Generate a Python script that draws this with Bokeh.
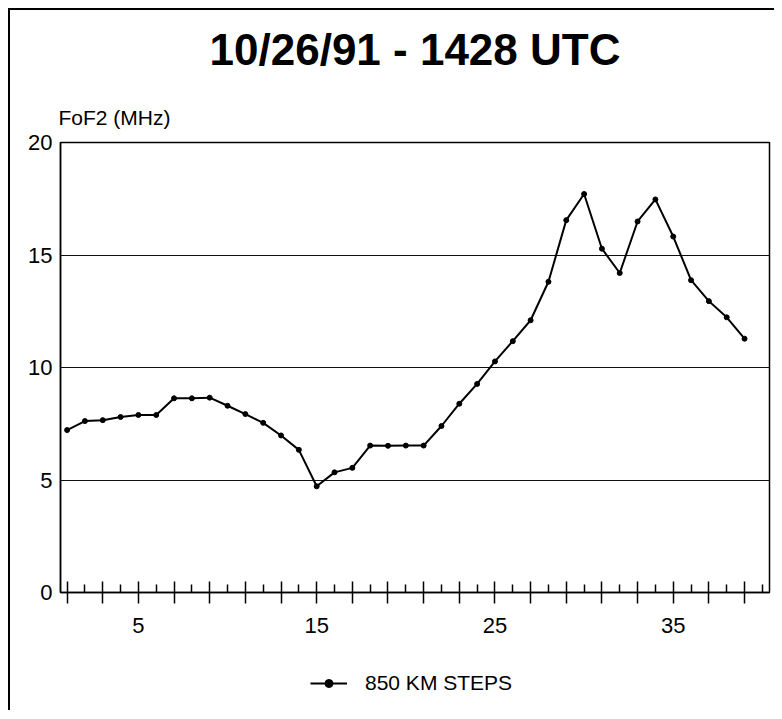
from bokeh.plotting import figure
from bokeh.layouts import column
from bokeh.models import Title, Legend, LegendItem, FixedTicker, Range1d, ColumnDataSource
from bokeh.embed import file_html
from bokeh.resources import INLINE

# ---- data ----
steps = list(range(1, 40))
fof2 = [7.22, 7.62, 7.66, 7.80, 7.89, 7.89, 8.63, 8.63, 8.66, 8.30,
        7.93, 7.54, 6.98, 6.34, 4.72, 5.34, 5.54, 6.53, 6.52, 6.53,
        6.53, 7.40, 8.39, 9.27, 10.27, 11.17, 12.10, 13.81, 16.55, 17.71,
        15.28, 14.20, 16.49, 17.47, 15.82, 13.88, 12.95, 12.23, 11.28]
title_text = "10/26/91 - 1428 UTC"
y_label = "FoF2 (MHz)"
series_name = "850 KM STEPS"
y_ticks = [0, 5, 10, 15, 20]
x_major = list(range(1, 40, 2))
x_minor = list(range(2, 41, 2))
x_labelled = [5, 15, 25, 35]

FONT = "Liberation Sans"

src = ColumnDataSource(data=dict(x=steps, y=fof2))

p = figure(frame_width=707, frame_height=448,
           x_range=Range1d(0.63, 40.4), y_range=Range1d(0, 20),
           output_backend="svg", toolbar_location=None,
           min_border_left=50, min_border_right=7,
           min_border_top=132, min_border_bottom=60)
p.styles = {"border-left": "2px solid black", "border-top": "2px solid black"}

p.outline_line_color = "black"
p.outline_line_width = 1.5
p.background_fill_color = "white"
p.border_fill_color = "white"

p.xgrid.visible = False
p.ygrid.grid_line_color = "#111111"
p.ygrid.grid_line_width = 1.2
p.ygrid.ticker = FixedTicker(ticks=y_ticks)

# y axis
p.yaxis.ticker = FixedTicker(ticks=y_ticks)
p.yaxis.axis_line_color = "black"
p.yaxis.axis_line_width = 1.5
p.yaxis.major_tick_out = 0
p.yaxis.major_tick_in = 0
p.yaxis.minor_tick_out = 0
p.yaxis.minor_tick_in = 0
p.yaxis.major_label_standoff = 8
p.yaxis.major_label_text_font = FONT
p.yaxis.major_label_text_font_size = "22px"
p.yaxis.major_label_text_color = "black"

# x axis
p.xaxis.ticker = FixedTicker(ticks=x_major, minor_ticks=x_minor)
p.xaxis.major_label_overrides = {t: (str(t) if t in x_labelled else "") for t in x_major}
p.xaxis.axis_line_color = "black"
p.xaxis.axis_line_width = 1.5
p.xaxis.major_tick_line_color = "black"
p.xaxis.major_tick_line_width = 1.5
p.xaxis.major_tick_in = 11
p.xaxis.major_tick_out = 11
p.xaxis.minor_tick_line_color = "black"
p.xaxis.minor_tick_line_width = 1.5
p.xaxis.minor_tick_in = 8
p.xaxis.minor_tick_out = 0
p.xaxis.major_label_standoff = 14
p.xaxis.major_label_text_font = FONT
p.xaxis.major_label_text_font_size = "22px"
p.xaxis.major_label_text_color = "black"

p.line("x", "y", source=src, line_color="black", line_width=2)
p.scatter("x", "y", source=src, size=5, fill_color="black", line_color="black")

# y label (closest to frame) and main title above it
p.add_layout(Title(text=y_label, align="left", offset=-2, standoff=28,
                   vertical_align="bottom",
                   text_font=FONT, text_font_size="21px", text_font_style="normal",
                   text_color="black"), "above")
p.add_layout(Title(text=title_text, align="center", standoff=28,
                   vertical_align="top",
                   text_font=FONT, text_font_size="44px", text_font_style="bold",
                   text_color="black"), "above")

# ---- legend strip below the chart (series renderers kept out of view) ----
p2 = figure(width=764, height=60, x_range=Range1d(-10, -9), y_range=Range1d(-10, -9),
            x_axis_type=None, y_axis_type=None,
            output_backend="svg", toolbar_location=None,
            min_border=0, min_border_left=0, min_border_right=0,
            min_border_top=0, min_border_bottom=0)
p2.styles = {"border-left": "2px solid black"}
p2.outline_line_color = None
p2.background_fill_color = "white"
p2.border_fill_color = "white"
p2.xgrid.visible = False
p2.ygrid.visible = False

ln2 = p2.line("x", "y", source=src, line_color="black", line_width=2)
sc2 = p2.scatter("x", "y", source=src, size=5, fill_color="black", line_color="black")

legend = Legend(items=[LegendItem(label=series_name, renderers=[ln2, sc2])],
                location=(250, 15), orientation="horizontal",
                glyph_width=37, glyph_height=20, label_standoff=18,
                padding=0, margin=0, border_line_color=None,
                background_fill_alpha=0,
                label_text_font=FONT, label_text_font_size="21px",
                label_text_color="black")
p2.add_layout(legend, "center")

layout = column(p, p2, spacing=0)
layout.styles = {"margin-left": "8px", "margin-top": "8px"}

open("out.html", "w").write(file_html(layout, INLINE))
